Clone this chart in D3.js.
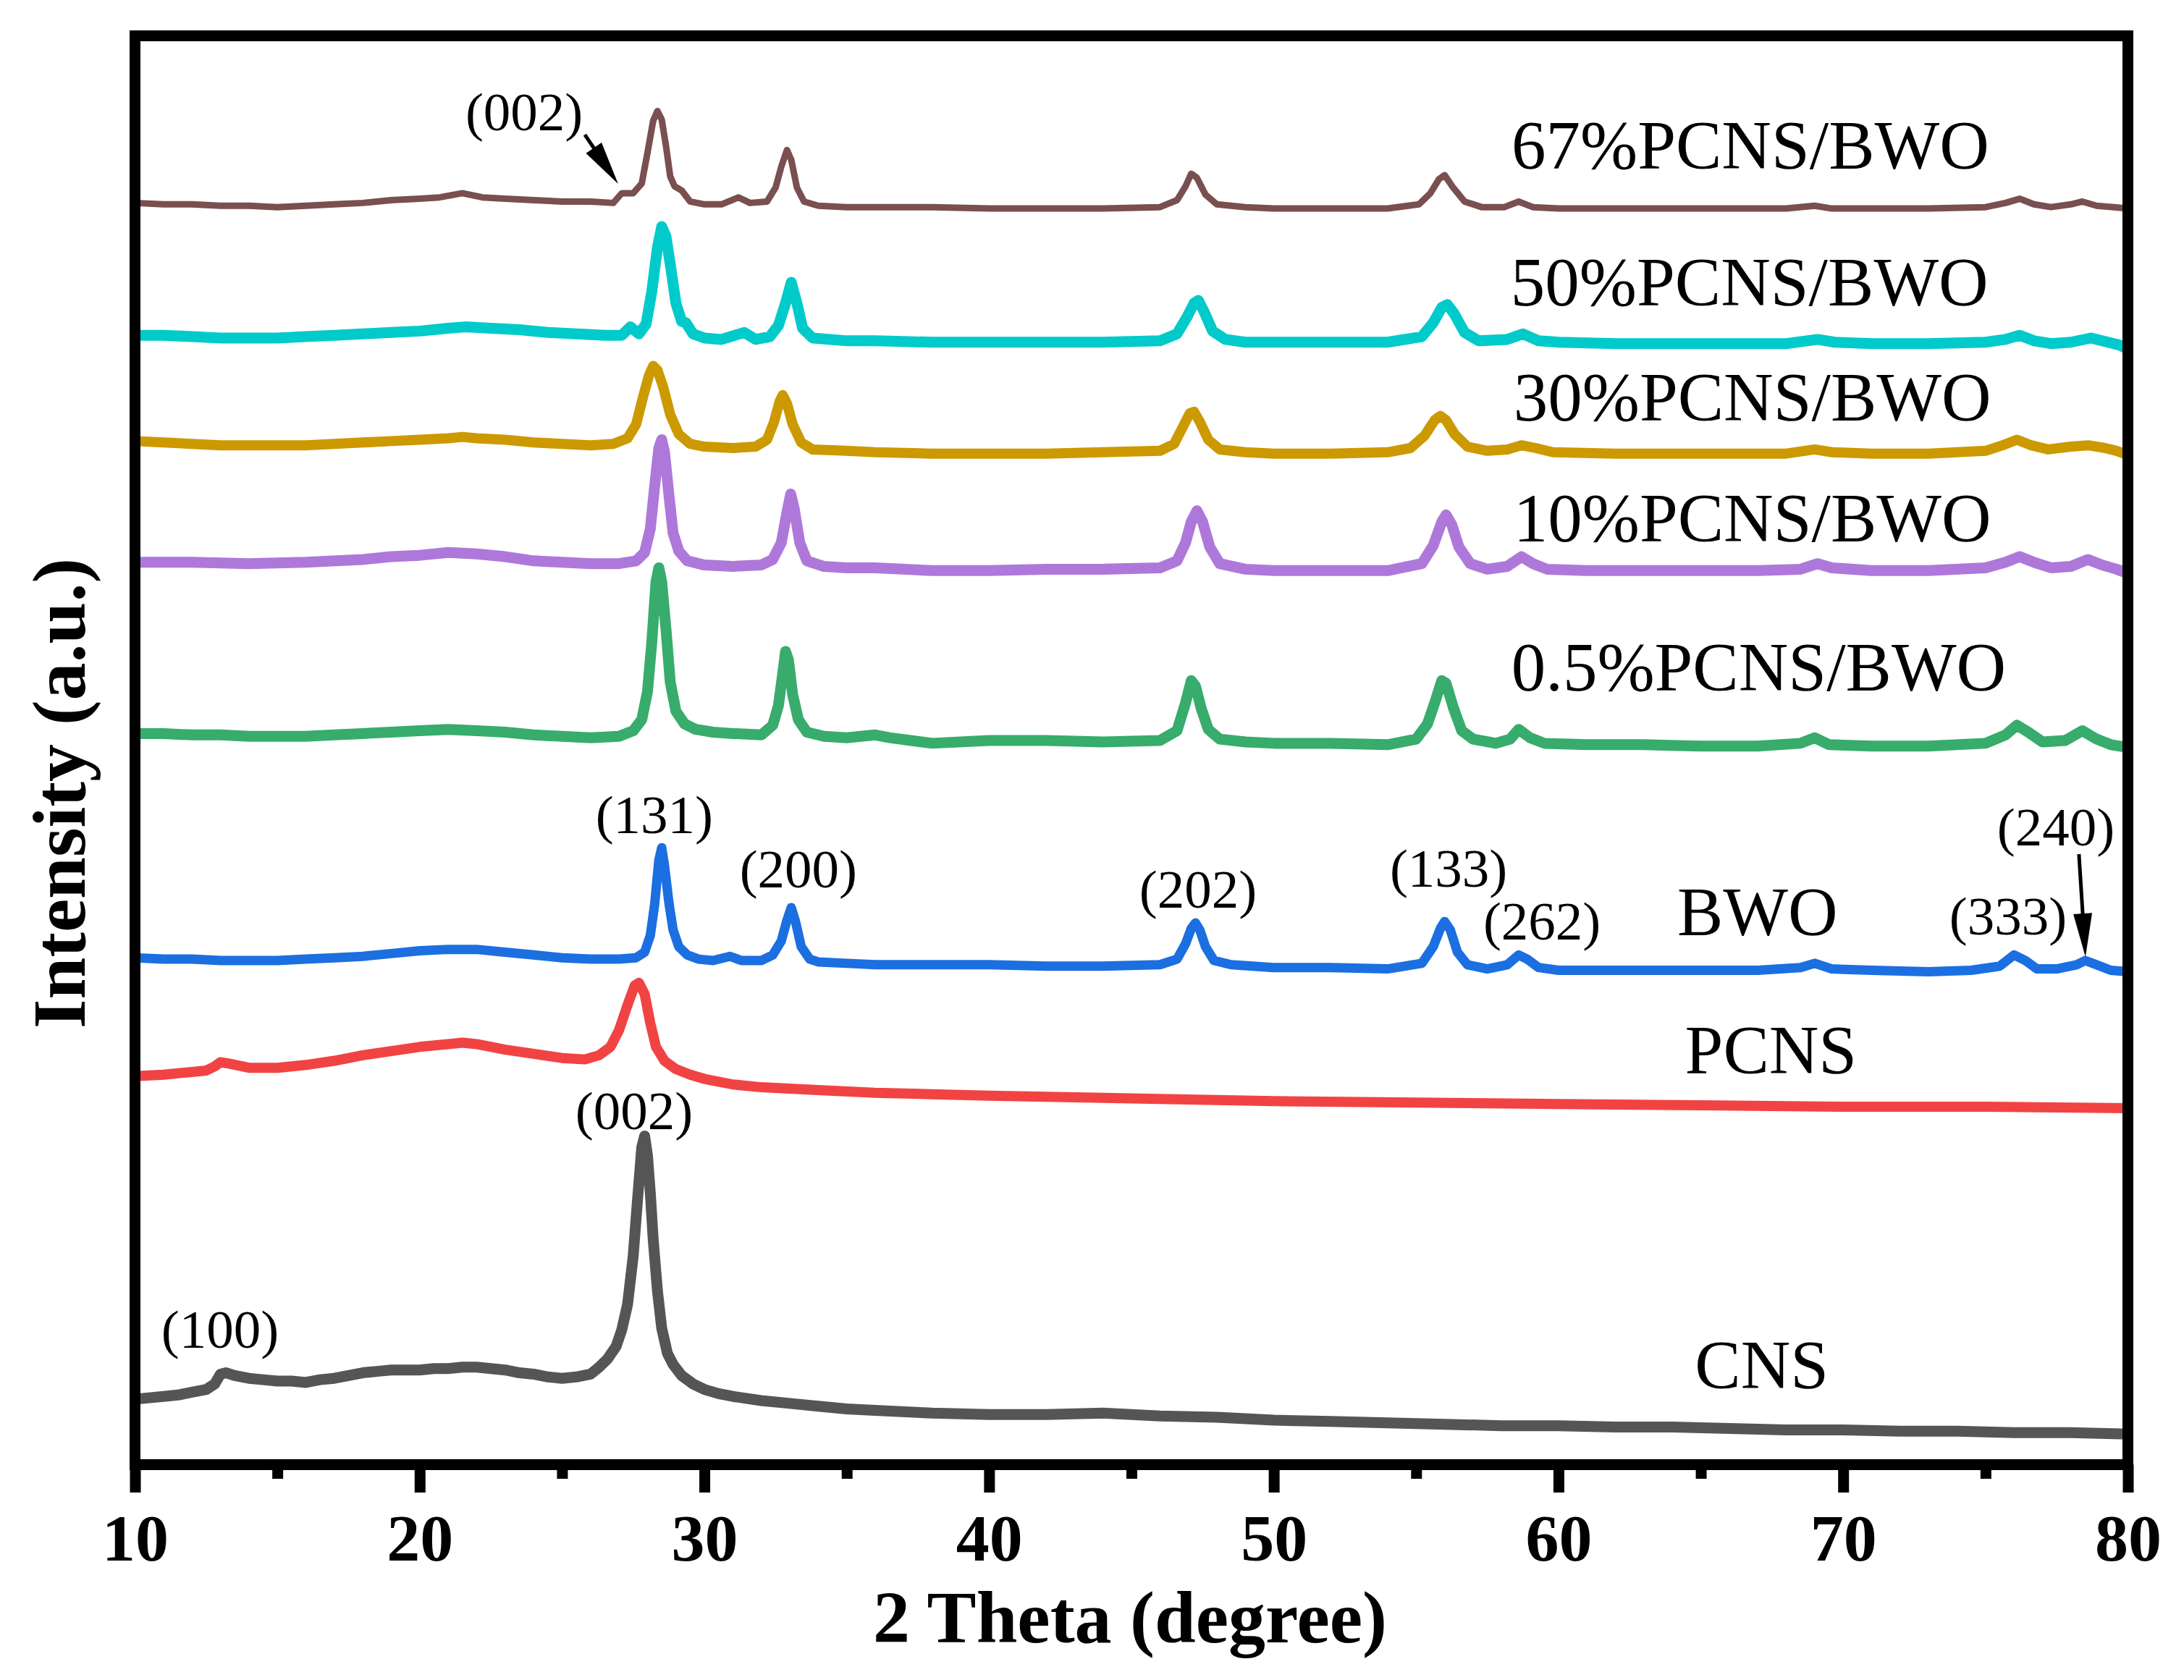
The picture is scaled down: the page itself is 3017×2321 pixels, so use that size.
<!DOCTYPE html>
<html><head><meta charset="utf-8">
<script src="https://cdn.jsdelivr.net/npm/d3@7"></script>
<style>html,body{margin:0;padding:0;background:#fff}svg{display:block}</style>
</head><body>
<script>
// ---------------- DATA ----------------
const seriesNames = ["CNS","PCNS","BWO","0.5%PCNS/BWO","10%PCNS/BWO","30%PCNS/BWO","50%PCNS/BWO","67%PCNS/BWO"];
const seriesColors = ["#555555","#F14343","#1B6FE0","#37AC6C","#AE78DB","#CC9900","#00CACA","#7A4F4F"];

const cns = [[10,47],[10.5,48],[11,49],[11.5,50],[12,52],[12.5,54],[12.8,58],[13.0,65],[13.2,66],[13.5,64],[14,62],[14.5,61],[15,60],[15.5,60],[16,59],[16.5,61],[17,62],[17.5,64],[18,66],[18.5,67],[19,68],[19.5,68],[20,68],[20.5,69],[21,69],[21.5,70],[22,70],[22.5,69],[23,68],[23.5,66],[24,65],[24.5,63],[25,62],[25.5,63],[26,65],[26.3,70],[26.6,76],[26.9,85],[27.1,97],[27.3,115],[27.5,150],[27.65,190],[27.8,228],[27.9,236],[28.0,222],[28.1,195],[28.2,162],[28.35,125],[28.5,98],[28.7,80],[28.9,72],[29.2,64],[29.6,58],[30,54],[30.5,51],[31,49],[32,46],[33,44],[34,42],[35,40],[36,39],[38,37],[40,36],[42,36],[44,37],[46,35],[48,34],[50,32],[52,31],[54,30],[56,29],[58,28],[60,28],[62,27],[64,27],[66,26],[68,25],[70,25],[72,24],[74,24],[76,23],[78,23],[80,22]];

const pcns = [[10,279],[11,280],[12,282],[12.5,283],[12.8,286],[13.0,289],[13.3,288],[14,285],[15,285],[16,287],[17,290],[18,294],[19,297],[20,300],[21,302],[21.5,303],[22,302],[23,298],[24,295],[25,292],[25.8,291],[26.3,294],[26.7,300],[27.0,312],[27.3,330],[27.55,344],[27.7,346],[27.9,338],[28.1,317],[28.3,300],[28.6,290],[29,284],[29.5,280],[30,277],[31,273],[32,271],[34,269],[36,267],[38,266],[40,265],[45,263],[50,261],[55,260],[60,259],[65,258],[70,257],[75,257],[80,256]];

const bwo = [[10,364],[11,363],[12,363],[13,362],[14,362],[15,362],[16,363],[17,364],[18,365],[19,367],[20,369],[21,370],[22,370],[23,368],[24,366],[25,364],[26,363],[27,363],[27.6,364],[27.9,368],[28.1,380],[28.25,402],[28.4,434],[28.5,443],[28.6,430],[28.75,404],[28.9,384],[29.1,372],[29.4,366],[29.8,363],[30.3,362],[30.9,365],[31.3,362],[32,362],[32.4,366],[32.7,376],[32.9,391],[33.05,400],[33.2,390],[33.4,372],[33.7,363],[34,361],[35,360],[36,359],[38,359],[40,359],[42,358],[44,358],[46,359],[46.6,363],[46.9,374],[47.1,385],[47.25,389],[47.4,384],[47.6,372],[47.9,362],[48.5,359],[50,357],[52,357],[54,356],[55.2,360],[55.6,372],[55.85,385],[56.0,390],[56.2,384],[56.45,368],[56.8,359],[57.5,356],[58.2,359],[58.6,366],[58.9,363],[59.3,357],[60,355],[62,355],[65,355],[67,355],[68.5,357],[69,360],[69.6,356],[71,355],[73,354],[74.5,355],[75.5,358],[76.0,366],[76.4,362],[76.8,356],[77.5,356],[78.2,359],[78.5,362],[78.9,359],[79.4,355],[80,354]];

const pcnsBwo05 = [[10,525],[11,525],[12,524],[13,524],[14,523],[15,523],[16,523],[17,524],[18,525],[19,526],[20,527],[21,528],[22,527],[23,526],[24,524],[25,523],[26,522],[27,523],[27.5,527],[27.8,535],[28.0,555],[28.15,590],[28.3,634],[28.4,644],[28.5,634],[28.65,600],[28.8,562],[29.0,541],[29.3,532],[29.7,528],[30.3,526],[31,525],[32,524],[32.4,531],[32.6,545],[32.75,568],[32.85,584],[32.95,578],[33.1,553],[33.3,535],[33.6,526],[34.2,523],[35,522],[36,524],[36.5,522],[38,518],[40,520],[42,520],[44,519],[46,520],[46.6,527],[46.9,547],[47.1,563],[47.25,559],[47.45,543],[47.7,528],[48.1,521],[49,519],[50,518],[52,518],[54,517],[55.0,521],[55.4,532],[55.7,550],[55.9,563],[56.05,561],[56.3,544],[56.6,527],[57.0,521],[57.8,518],[58.3,521],[58.6,528],[59.0,522],[59.5,518],[61,517],[63,517],[65,516],[67,516],[68.5,518],[69.0,522],[69.5,517],[71,516],[73,516],[75,518],[75.7,524],[76.1,531],[76.5,526],[77,519],[77.8,520],[78.4,527],[78.9,521],[79.4,517],[80,515]];

const pcnsBwo10 = [[10,648],[12,648],[14,647],[16,648],[18,650],[19,652],[20,653],[21,655],[22,654],[23,652],[24,649],[25,648],[26,647],[27,647],[27.6,649],[27.9,655],[28.1,672],[28.25,702],[28.4,730],[28.5,736],[28.6,727],[28.75,697],[28.9,669],[29.1,656],[29.4,649],[30,646],[31,645],[32,646],[32.4,650],[32.7,662],[32.9,684],[33.03,697],[33.15,687],[33.35,662],[33.6,649],[34.2,645],[35,644],[36,644],[38,642],[40,642],[42,643],[44,643],[46,644],[46.6,649],[46.9,662],[47.1,677],[47.3,685],[47.5,677],[47.75,659],[48.1,647],[49,643],[50,642],[52,642],[54,642],[55.2,647],[55.6,660],[55.9,677],[56.05,682],[56.25,675],[56.5,659],[56.9,647],[57.5,643],[58.2,645],[58.7,652],[59.1,647],[59.6,643],[61,642],[64,642],[67,642],[68.5,643],[69.1,647],[69.6,644],[71,642],[73,642],[75,644],[75.7,648],[76.2,652],[76.7,648],[77.3,644],[78,645],[78.6,650],[79.1,646],[79.6,643],[80,640]];

const pcnsBwo30 = [[10,735],[11,734],[12,733],[13,732],[14,732],[15,732],[16,732],[17,733],[18,734],[19,735],[20,736],[21,737],[21.5,738],[22,737],[23,736],[24,734],[25,733],[26,732],[26.8,733],[27.3,737],[27.6,747],[27.85,767],[28.05,782],[28.2,789],[28.35,786],[28.55,774],[28.8,754],[29.1,740],[29.5,733],[30,731],[31,730],[31.8,731],[32.2,736],[32.45,749],[32.65,764],[32.75,768],[32.9,762],[33.1,747],[33.4,734],[33.8,729],[35,728],[36,727],[38,726],[40,726],[42,726],[44,727],[46,728],[46.5,733],[46.8,745],[47.05,755],[47.2,756],[47.4,749],[47.7,736],[48.1,729],[49,727],[50,726],[52,726],[54,727],[54.8,730],[55.3,739],[55.65,750],[55.85,753],[56.05,750],[56.35,740],[56.8,731],[57.5,728],[58.2,729],[58.7,732],[59.2,730],[59.8,727],[62,726],[65,726],[68,726],[69,729],[69.6,727],[71,726],[73,726],[75,728],[75.6,732],[76.1,736],[76.6,732],[77.2,729],[78,731],[78.6,732],[79.2,730],[79.6,728],[80,725]];

const pcnsBwo50 = [[10,811],[11,811],[12,810],[13,809],[14,809],[15,809],[16,810],[17,811],[18,812],[19,813],[20,814],[21,816],[21.6,817],[22.5,816],[23.5,815],[24.5,813],[25.5,812],[26.5,811],[27.1,811],[27.4,817],[27.7,812],[27.95,819],[28.15,842],[28.35,874],[28.5,889],[28.65,882],[28.8,862],[29.0,834],[29.2,821],[29.35,820],[29.6,812],[30,809],[30.6,808],[31.4,813],[31.8,808],[32.3,810],[32.6,818],[32.85,834],[33.05,849],[33.25,834],[33.45,816],[33.8,809],[35,807],[36,807],[38,806],[40,806],[42,806],[44,806],[46,807],[46.6,812],[46.95,824],[47.2,834],[47.35,836],[47.55,828],[47.85,814],[48.3,808],[49,806],[50,806],[52,806],[54,806],[55.2,810],[55.6,820],[55.9,831],[56.1,833],[56.35,826],[56.7,813],[57.2,807],[58.2,808],[58.75,812],[59.3,807],[60,806],[62,805],[65,805],[68,805],[69.1,808],[69.7,806],[71,805],[73,805],[75,806],[75.7,808],[76.2,811],[76.7,807],[77.3,805],[78,806],[78.7,809],[79.3,806],[79.7,804],[80,801]];

const pcnsBwo67 = [[10,906],[11,905],[12,905],[13,904],[14,904],[15,903],[16,904],[17,905],[18,906],[19,908],[20,909],[20.7,910],[21.5,913],[22.2,910],[23,909],[24,908],[25,907],[26,907],[26.8,906],[27.1,913],[27.5,913],[27.8,920],[28.0,942],[28.2,965],[28.35,972],[28.5,966],[28.65,947],[28.8,925],[28.95,918],[29.2,915],[29.5,907],[30,905],[30.6,905],[31.2,910],[31.6,906],[32.2,907],[32.5,917],[32.7,932],[32.9,944],[33.05,937],[33.25,917],[33.5,907],[34,904],[35,903],[36,903],[38,903],[40,902],[42,902],[44,902],[46,903],[46.6,908],[46.9,918],[47.1,927],[47.3,924],[47.6,912],[48,905],[49,903],[50,902],[52,902],[54,902],[55.1,905],[55.5,913],[55.8,923],[56.0,926],[56.3,917],[56.7,907],[57.3,903],[58.1,903],[58.6,907],[59.1,903],[60,902],[62,902],[64,902],[66,902],[68,902],[69,904],[69.6,902],[71,902],[73,902],[75,903],[75.7,906],[76.2,909],[76.7,905],[77.3,903],[78,905],[78.4,907],[78.9,904],[79.5,903],[80,902]];

const seriesData = [cns, pcns, bwo, pcnsBwo05, pcnsBwo10, pcnsBwo30, pcnsBwo50, pcnsBwo67];

const xTicks = [10,20,30,40,50,60,70,80];
const xMinorTicks = [15,25,35,45,55,65,75];

// label anchor points in data coordinates (2theta, intensity)
const seriesLabelX = [64.79, 64.44, 64.17, 58.34, 58.42, 58.42, 58.32, 58.35];
const seriesLabelY = [54.8, 280.9, 380, 555.7, 662.7, 749.7, 832.4, 930.7];

const peakTexts = ["(100)","(002)","(131)","(200)","(202)","(133)","(262)","(333)","(240)","(002)"];
const peakX = [12.99, 27.53, 28.24, 33.30, 47.34, 56.14, 59.42, 75.79, 77.47, 23.67];
const peakY = [84, 241, 453.5, 414.5, 400, 415, 377, 380.7, 444.6, 958];

// arrows: [x, y] in data coordinates
const arrowFrom = [[25.80, 955], [78.28, 438.4]];
const arrowTo   = [[26.97, 919.7], [78.51, 364.6]];

// ---------------- LAYOUT ----------------
const W = 3017, H = 2321;
const L = 186.5, R = 2939.5, T = 49.5, B = 2023.5;
const FONT = "'Liberation Serif','Times New Roman',Times,serif";

const svg = d3.select("body").append("svg").attr("width", W).attr("height", H)
  .attr("viewBox", `0 0 ${W} ${H}`);
svg.append("rect").attr("width", W).attr("height", H).attr("fill", "#fff");

const x = d3.scaleLinear().domain([10, 80]).range([L, R]);
const y = d3.scaleLinear().domain([0, 1026]).range([B, T]);

const widths = [15, 14, 13, 15, 15, 14, 15, 9];
const line = d3.line().x(d => x(d[0])).y(d => y(d[1]));

const traces = svg.append("g");
seriesData.forEach((data, i) => {
  traces.append("path").datum(data)
    .attr("d", line)
    .attr("fill", "none")
    .attr("stroke", seriesColors[i])
    .attr("stroke-width", widths[i])
    .attr("stroke-linejoin", "round")
    .attr("stroke-linecap", "butt");
});

// series labels
svg.append("g").selectAll("text").data(seriesNames).join("text")
  .attr("x", (d, i) => x(seriesLabelX[i]))
  .attr("y", (d, i) => y(seriesLabelY[i]))
  .attr("font-family", FONT).attr("font-size", 95).attr("fill", "#000")
  .text(d => d);

// peak labels
svg.append("g").selectAll("text").data(peakTexts).join("text")
  .attr("x", (d, i) => x(peakX[i]))
  .attr("y", (d, i) => y(peakY[i]))
  .attr("text-anchor", "middle")
  .attr("font-family", FONT).attr("font-size", 75).attr("fill", "#000")
  .text(d => d);

// arrows
const arrowG = svg.append("g");
arrowFrom.forEach((f, i) => {
  const t = arrowTo[i];
  const x1 = x(f[0]), y1 = y(f[1]), x2 = x(t[0]), y2 = y(t[1]);
  const dx = x2 - x1, dy = y2 - y1, len = Math.hypot(dx, dy);
  const ux = dx / len, uy = dy / len, px = -uy, py = ux;
  const hl = 60, hw = 13;
  const bx = x2 - ux * hl, by = y2 - uy * hl;
  arrowG.append("line").attr("x1", x1).attr("y1", y1).attr("x2", bx + ux * 2).attr("y2", by + uy * 2)
    .attr("stroke", "#000").attr("stroke-width", 5);
  arrowG.append("polygon")
    .attr("points", [[x2, y2], [bx + px * hw, by + py * hw], [bx - px * hw, by - py * hw]].map(p => p.join(",")).join(" "))
    .attr("fill", "#000");
});

// axes
const gx = svg.append("g").attr("transform", `translate(0,${B})`)
  .call(d3.axisBottom(x).tickValues(xTicks).tickSize(38.5).tickSizeOuter(0).tickFormat(d3.format("d")));
gx.select(".domain").remove();
gx.selectAll(".tick line").attr("stroke", "#000").attr("stroke-width", 15);
gx.selectAll(".tick text").attr("y", 132.5).attr("dy", 0)
  .attr("font-family", FONT).attr("font-size", 92).attr("font-weight", "bold").attr("fill", "#000");

const gxm = svg.append("g").attr("transform", `translate(0,${B})`)
  .call(d3.axisBottom(x).tickValues(xMinorTicks).tickSize(19.5).tickSizeOuter(0).tickFormat(""));
gxm.select(".domain").remove();
gxm.selectAll(".tick line").attr("stroke", "#000").attr("stroke-width", 15);

// frame
svg.append("rect").attr("x", L).attr("y", T).attr("width", R - L).attr("height", B - T)
  .attr("fill", "none").attr("stroke", "#000").attr("stroke-width", 15);

// axis titles
svg.append("text").attr("x", (L + R) / 2 - 2).attr("y", 2269)
  .attr("text-anchor", "middle").attr("font-family", FONT).attr("font-size", 102)
  .attr("font-weight", "bold").text("2 Theta (degree)");

svg.append("text").attr("transform", "translate(117,1096) rotate(-90)")
  .attr("text-anchor", "middle").attr("font-family", FONT).attr("font-size", 104)
  .attr("font-weight", "bold").text("Intensity (a.u.)");
</script>
</body></html>
